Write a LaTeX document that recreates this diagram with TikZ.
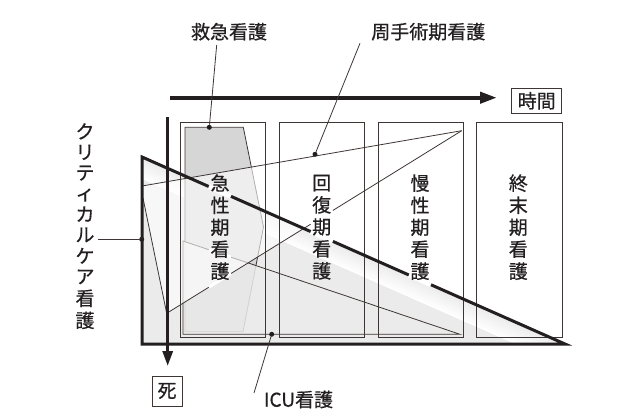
\documentclass[tikz,border=0pt]{standalone}
\usepackage{fontspec}
\setmainfont{Noto Sans CJK JP}[BoldFont={Noto Sans CJK JP}, BoldFeatures={FakeBold=0.6}]
\usetikzlibrary{arrows.meta,calc}
\definecolor{ink}{HTML}{231F20}
\definecolor{boxline}{HTML}{3E3634}
\definecolor{lightfill}{HTML}{EBEBEB}
\definecolor{midfill}{HTML}{D6D6D6}
\newcommand{\mystack}[1]{\begin{tabular}{@{}c@{}}#1\end{tabular}}
\begin{document}
\begin{tikzpicture}[x=1pt,y=-1pt,
  lbl/.style={inner sep=0pt, text=ink, font=\fontsize{19}{20.5}\selectfont\bfseries},
  vlbl/.style={inner sep=0pt, align=center, text=ink, font=\fontsize{19}{20.5}\selectfont\bfseries},
  colbox/.style={draw=boxline, line width=1pt, minimum width=85.5pt, minimum height=215pt, anchor=north west, inner sep=0pt},
  thinline/.style={draw=boxline, line width=0.8pt},
  boldline/.style={draw=ink, line width=3pt, line join=miter},
  gapline/.style={draw=white, line width=5pt},
  dot/.style={circle, fill=ink, inner sep=0pt, minimum size=5pt},
  framed/.style={draw=boxline, line width=1pt, inner sep=0pt, text=ink, font=\fontsize{19}{20.5}\selectfont\bfseries}]

\path[use as bounding box] (0,0) rectangle (641,418);

% key points
\coordinate (TL) at (142,157);
\coordinate (BL) at (142,344);
\coordinate (BR) at (565,344);
\coordinate (apex) at (461.7,130.7);
\coordinate (wU) at (142,186);
\coordinate (wM) at (143,198);
\coordinate (wL) at (166.7,313.3);
\coordinate (iT) at (183,241);
\coordinate (iR) at (460,334.3);
\coordinate (iB) at (183,334.3);

% big triangle: light grey with a white glow along the diagonal
\begin{scope}
  \clip (TL) -- (BL) -- (BR) -- cycle;
  \fill[lightfill] (TL) -- (BL) -- (BR) -- cycle;
  \foreach \k in {12,...,0}{
    \pgfmathsetmacro{\mix}{100-\k*100/12}
    \draw[line width=1.8pt, draw=lightfill!\mix!white]
      ($($(TL)!-0.3!(BR)$)+(-0.4043*1.6*\k,0.9146*1.6*\k)$) -- ($($(TL)!1.3!(BR)$)+(-0.4043*1.6*\k,0.9146*1.6*\k)$);
  }
\end{scope}

% emergency care region
\filldraw[fill=midfill, thinline] (185,127.3) -- (243.3,127.3) -- (263.5,227) -- (243,331.7) -- (185,331.7) -- cycle;

% ICU region
\fill[lightfill, fill opacity=0.85] (iT) -- (iR) -- (iB) -- cycle;
\draw[thinline] (iT) -- (iR) -- (iB) -- cycle;

% perioperative wedge
\fill[white, fill opacity=0.6] (apex) -- (wU) -- (wM) -- (wL) -- cycle;
\draw[thinline] (apex) -- (wU);
\draw[thinline] (wM) -- (wL) -- (apex);

% column boxes
\node[colbox] (b1) at (179.5,121.7) {};
\node[colbox] (b2) at (278.5,121.7) {};
\node[colbox] (b3) at (377.5,121.7) {};
\node[colbox] (b4) at (476,121.7) {};

% bold triangle
\draw[boldline] (TL) -- (BL) -- (BR) -- cycle;

% gaps where lines pass under the column labels
\draw[gapline] ($(TL)!0.158!(BR)$) -- ($(TL)!0.210!(BR)$);
\draw[gapline] ($(TL)!0.399!(BR)$) -- ($(TL)!0.451!(BR)$);
\draw[gapline] ($(TL)!0.631!(BR)$) -- ($(TL)!0.683!(BR)$);
\draw[gapline, line width=3pt] ($(wL)!0.143!(apex)$) -- ($(wL)!0.218!(apex)$);
\draw[gapline, line width=3pt] ($(wL)!0.488!(apex)$) -- ($(wL)!0.563!(apex)$);
\draw[gapline, line width=3pt] ($(iT)!0.094!(iR)$) -- ($(iT)!0.173!(iR)$);

% column labels
\node[vlbl] (c1) at (220,229.5) {\mystack{急\\性\\期\\看\\護}};
\node[vlbl] (c2) at (321.7,229.5) {\mystack{回\\復\\期\\看\\護}};
\node[vlbl] (c3) at (420,229.5) {\mystack{慢\\性\\期\\看\\護}};
\node[vlbl] (c4) at (518.3,229.5) {\mystack{終\\末\\期\\看\\護}};

% time axis
\coordinate (tA) at (170,97.7);
\coordinate (tB) at (497,97.7);
\draw[line width=4pt, draw=ink, -{Triangle[length=17pt,width=11pt]}] (tA) -- (tB);
\node[framed, minimum width=50pt, minimum height=25pt] (jikan) at (536.7,100.8) {時間};

% death axis
\coordinate (vA) at (167.7,117);
\coordinate (vB) at (167.7,366);
\draw[line width=3pt, draw=ink, -{Triangle[length=15pt,width=10pt]}] (vA) -- (vB);
\node[framed, minimum width=30pt, minimum height=30pt] (shi) at (167,391) {死};

% labels and leaders
\node[lbl] (qlab) at (229,31.7) {救急看護};
\node[lbl] (plab) at (428.3,31.7) {周手術期看護};
\node[lbl] (ilab) at (298.5,399.5) {ICU看護};
\node[vlbl] (clab) at (85,228.5) {\mystack{ク\\リ\\テ\\ィ\\カ\\ル\\ケ\\ア\\看\\護}};

\node[dot] (d1) at (209.3,127.3) {};
\node[dot] (d2) at (315,154.3) {};
\node[dot] (d3) at (271.7,334.3) {};
\node[dot] (d4) at (141.7,239.3) {};

\coordinate (q1) at (216.7,45);
\coordinate (p1) at (360,43.3);
\coordinate (i1) at (254,393);
\coordinate (k1) at (98.3,239.3);
\draw[thinline] (q1) -- (d1);
\draw[thinline] (p1) -- (d2);
\draw[thinline] (i1) -- (d3);
\draw[thinline] (k1) -- (d4);
\end{tikzpicture}
\end{document}
